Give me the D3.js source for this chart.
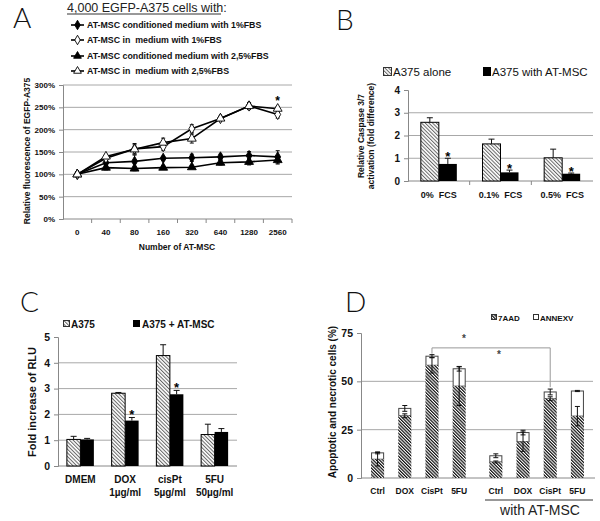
<!DOCTYPE html>
<html><head><meta charset="utf-8">
<script src="https://cdn.jsdelivr.net/npm/d3@7"></script>
<style>
html,body{margin:0;padding:0;background:#fff;}
svg{display:block;font-family:"Liberation Sans",Arial,sans-serif;}
.big{font-family:"Lato","DejaVu Sans",sans-serif;font-weight:300;fill:#111;}
</style></head>
<body>
<script>
// ---------------- DATA ----------------
// Panel A
const aCategories = ["0","40","80","160","320","640","1280","2560"];
const aSeriesNames = ["AT-MSC conditioned medium with 1%FBS","AT-MSC in  medium with 1%FBS","AT-MSC conditioned medium with 2,5%FBS","AT-MSC in  medium with 2,5%FBS"];
const aCond1 = [100,126,129,136,137,139,142,139];
const aCond1Err = [2,5,14,4,8,6,9,14];
const aMed1 = [100,136,157,162,202,225,253,234];
const aMed1Err = [2,5,12,8,9,4,8,8];
const aCond25 = [100,115,113,115,116,126,128,132];
const aCond25Err = [2,5,5,4,3,5,7,9];
const aMed25 = [100,140,156,171,180,225,253,247];
const aMed25Err = [2,4,10,10,10,4,5,5];
const aYTicks = [0,50,100,150,200,250,300];
const aStarAt = ["2560"];
// Panel B
const bCategories = ["0%  FCS","0.1%  FCS","0.5%  FCS"];
const bSeries = ["A375 alone","A375 with AT-MSC"];
const bAlone = [2.58,1.63,1.02];
const bAloneErr = [0.2,0.21,0.38];
const bWith = [0.75,0.38,0.32];
const bWithErr = [0.25,0.1,0.03];
const bYTicks = [0,1,2,3,4];
// Panel C
const cCategories = ["DMEM","DOX","cisPt","5FU"];
const cSubLabels = ["","1µg/ml","5µg/ml","50µg/ml"];
const cSeries = ["A375","A375 + AT-MSC"];
const cA375 = [1.03,2.82,4.28,1.22];
const cA375Err = [0.12,0.03,0.42,0.4];
const cWith = [1.03,1.76,2.78,1.32];
const cWithErr = [0.04,0.12,0.15,0.13];
const cStars = [false,true,true,false];
const cYTicks = [0,1,2,3,4,5];
// Panel D
const dGroups = ["alone","with AT-MSC"];
const dDrugs = ["Ctrl","DOX","CisPt","5FU"];
const dSeries = ["7AAD","ANNEXV"];
const d7AAD = [[9.7,32.2,58.3,47.5],[8.3,18.8,41,32]];
const d7AADErr = [[3.5,1,4,10],[0.5,5,1,5]];
const dTotal = [[13,36,63,56.5],[11.5,23.5,44.5,45]];
const dTotalErr = [[0.5,1.5,0.8,1.2],[1,1.2,1.5,0.3]];
const dYTicks = [0,25,50,75];

// ---------------- SETUP ----------------
const svg = d3.select("body").append("svg").attr("width",600).attr("height",521);
svg.append("rect").attr("width",600).attr("height",521).attr("fill","#fff");
const defs = svg.append("defs");
function hatch(id, size, color, sw){
  const p = defs.append("pattern").attr("id",id).attr("patternUnits","userSpaceOnUse")
    .attr("width",size).attr("height",size).attr("patternTransform","rotate(-45)");
  p.append("rect").attr("width",size).attr("height",size).attr("fill","#fff");
  p.append("line").attr("x1",0.5).attr("y1",0).attr("x2",0.5).attr("y2",size).attr("stroke",color).attr("stroke-width",sw);
}
hatch("hl",2.6,"#666",1);
hatch("hd",2.3,"#111",1.45);
const gridC = "#a8a8a8", axC = "#888";

function yAxis(g, y, x, x2, ticks, fmt, grid, fs){
  grid.forEach(t=>g.append("line").attr("x1",x).attr("x2",x2).attr("y1",y(t)).attr("y2",y(t)).attr("stroke",gridC).attr("stroke-width",1));
  const ax = g.append("g").attr("transform",`translate(${x},0)`).call(d3.axisLeft(y).tickValues(ticks).tickSize(4).tickFormat(fmt));
  ax.select(".domain").attr("stroke",axC);
  ax.selectAll(".tick line").attr("stroke",axC);
  ax.selectAll("text").attr("font-size",fs).attr("font-weight","bold").attr("font-family","Liberation Sans, Arial").attr("fill","#111").attr("dx",-1);
  return ax;
}
function vTitle(lines, x, y, fs, lh){
  const t = svg.append("text").attr("transform",`translate(${x},${y}) rotate(-90)`).attr("text-anchor","middle")
    .attr("font-size",fs).attr("font-weight","bold").attr("fill","#111");
  lines.forEach((l,i)=>t.append("tspan").attr("x",0).attr("dy",i===0?0:lh).text(l));
}
function errBar(g, x, y1, y2, cap, cw){
  g.append("line").attr("x1",x).attr("x2",x).attr("y1",y1).attr("y2",y2).attr("stroke","#111").attr("stroke-width",1);
  if(cap.includes("t")) g.append("line").attr("x1",x-cw).attr("x2",x+cw).attr("y1",y1).attr("y2",y1).attr("stroke","#111");
  if(cap.includes("b")) g.append("line").attr("x1",x-cw).attr("x2",x+cw).attr("y1",y2).attr("y2",y2).attr("stroke","#111");
}

// ---------------- PANEL LETTERS ----------------
[["A",13,28],["B",336,30],["C",20,312],["D",345,312]].forEach(([l,x,y])=>
  svg.append("text").attr("class","big").attr("x",x).attr("y",y).attr("font-size",28).text(l));

// ---------------- PANEL A ----------------
{
  const g = svg.append("g");
  const x = d3.scaleBand().domain(aCategories).range([63,292]);
  const y = d3.scaleLinear().domain([0,300]).range([219,85]);
  svg.append("text").attr("x",67).attr("y",12).attr("font-size",12.5).attr("fill","#222").text("4,000 EGFP-A375 cells with:");
  svg.append("line").attr("x1",67).attr("x2",221).attr("y1",14).attr("y2",14).attr("stroke","#333").attr("stroke-width",1);
  yAxis(g, y, 63, 292, aYTicks, d=>d+"%", aYTicks.filter(t=>t>0), 8);
  g.append("line").attr("x1",63).attr("x2",292).attr("y1",219).attr("y2",219).attr("stroke",axC);
  aCategories.forEach((c,i)=>{
    const xx = x(c)+x.bandwidth();
    g.append("line").attr("x1",xx).attr("x2",xx).attr("y1",219).attr("y2",223).attr("stroke",axC);
    g.append("text").attr("x",x(c)+x.bandwidth()/2).attr("y",235).attr("text-anchor","middle").attr("font-size",8).attr("font-weight","bold").attr("fill","#111").text(c);
  });
  g.append("text").attr("x",177).attr("y",250).attr("text-anchor","middle").attr("font-size",8.5).attr("font-weight","bold").attr("fill","#111").text("Number of AT-MSC");
  vTitle(["Relative fluorescence of EGFP-A375"], 30, 151, 8.5, 0);
  const series = [
    {v:aCond1,e:aCond1Err,sym:d3.symbolDiamond,fill:"#000"},
    {v:aMed1,e:aMed1Err,sym:d3.symbolDiamond,fill:"#fff"},
    {v:aCond25,e:aCond25Err,sym:d3.symbolTriangle,fill:"#000"},
    {v:aMed25,e:aMed25Err,sym:d3.symbolTriangle,fill:"#fff"}];
  const cx = c=>x(c)+x.bandwidth()/2;
  const line = d3.line().x((d,i)=>cx(aCategories[i])).y(d=>y(d));
  series.forEach(s=>g.append("path").attr("d",line(s.v)).attr("fill","none").attr("stroke","#000").attr("stroke-width",1.6));
  series.forEach(s=>s.v.forEach((v,i)=>errBar(g,cx(aCategories[i]),y(v+s.e[i]),y(v-s.e[i]),"tb",2)));
  series.forEach(s=>s.v.forEach((v,i)=>g.append("path").attr("d",d3.symbol(s.sym, s.sym===d3.symbolDiamond?30:34)())
    .attr("transform",`translate(${cx(aCategories[i])},${y(v)})`).attr("fill",s.fill).attr("stroke","#000").attr("stroke-width",0.9)));
  aStarAt.forEach(c=>{
    const i = aCategories.indexOf(c);
    const top = d3.max(series,s=>s.v[i]+s.e[i]);
    g.append("text").attr("x",cx(c)).attr("y",y(top)-1).attr("text-anchor","middle").attr("font-size",12).attr("font-weight","bold").text("*");
  });
  // legend
  const ly = [25,40,56,71];
  series.forEach((s,i)=>{
    g.append("line").attr("x1",71).attr("x2",84).attr("y1",ly[i]).attr("y2",ly[i]).attr("stroke","#000").attr("stroke-width",1.6);
    g.append("path").attr("d",d3.symbol(s.sym,26)()).attr("transform",`translate(77.5,${ly[i]})`).attr("fill",s.fill).attr("stroke","#000").attr("stroke-width",0.9);
    g.append("text").attr("x",87).attr("y",ly[i]+3.2).attr("font-size",8.8).attr("font-weight","bold").attr("fill","#111").attr("xml:space","preserve").text(aSeriesNames[i]);
  });
}

// ---------------- PANEL B ----------------
{
  const g = svg.append("g");
  const x = d3.scaleBand().domain(bCategories).range([408,593]);
  const st = x.bandwidth();
  const xi = d3.scaleBand().domain(bSeries).range([st/2-18, st/2+18]);
  const y = d3.scaleLinear().domain([0,4]).range([181,90]);
  yAxis(g, y, 408, 593, bYTicks, d3.format("d"), [1,2,3], 10);
  g.append("line").attr("x1",408).attr("x2",593).attr("y1",181).attr("y2",181).attr("stroke",axC);
  [1,2].forEach(i=>g.append("line").attr("x1",408+i*st).attr("x2",408+i*st).attr("y1",181).attr("y2",185).attr("stroke",axC));
  bCategories.forEach((c,i)=>{
    const x0 = x(c)+xi(bSeries[0]), x1 = x(c)+xi(bSeries[1]), w = xi.bandwidth();
    g.append("rect").attr("x",x0).attr("y",y(bAlone[i])).attr("width",w).attr("height",y(0)-y(bAlone[i])).attr("fill","url(#hl)").attr("stroke","#000").attr("stroke-width",1);
    errBar(g,x0+w/2,y(bAlone[i]+bAloneErr[i]),y(bAlone[i]),"t",3);
    g.append("rect").attr("x",x1).attr("y",y(bWith[i])).attr("width",w).attr("height",y(0)-y(bWith[i])).attr("fill","#000");
    errBar(g,x1+w/2,y(bWith[i]+bWithErr[i]),y(bWith[i]),"t",3);
    g.append("text").attr("x",x1+w/2).attr("y",y(bWith[i]+bWithErr[i])+3).attr("text-anchor","middle").attr("font-size",13).attr("font-weight","bold").text("*");
    g.append("text").attr("x",x(c)+st/2).attr("y",198).attr("text-anchor","middle").attr("font-size",9).attr("font-weight","bold").attr("fill","#111").attr("xml:space","preserve").text(c);
  });
  vTitle(["Relative Caspase 3/7","activation (fold difference)"], 364, 136, 8.5, 10);
  // legend
  g.append("rect").attr("x",383.5).attr("y",67.5).attr("width",8).attr("height",8).attr("fill","url(#hl)").attr("stroke","#333");
  g.append("text").attr("x",393).attr("y",75.5).attr("font-size",11.5).attr("fill","#111").text(bSeries[0]);
  g.append("rect").attr("x",483).attr("y",67).attr("width",8).attr("height",9).attr("fill","#000");
  g.append("text").attr("x",492).attr("y",75.5).attr("font-size",11.5).attr("fill","#111").text(bSeries[1]);
}

// ---------------- PANEL C ----------------
{
  const g = svg.append("g");
  const x = d3.scaleBand().domain(cCategories).range([58,237]);
  const st = x.bandwidth();
  const xi = d3.scaleBand().domain(cSeries).range([st/2-13.5, st/2+13.5]);
  const y = d3.scaleLinear().domain([0,5]).range([466,337]);
  yAxis(g, y, 58, 237, cYTicks, d3.format("d"), [1,2,3,4], 10.5);
  g.append("line").attr("x1",58).attr("x2",237).attr("y1",466).attr("y2",466).attr("stroke",axC);
  cCategories.forEach((c,i)=>{
    const x0 = x(c)+xi(cSeries[0]), x1 = x(c)+xi(cSeries[1]), w = xi.bandwidth();
    g.append("rect").attr("x",x0).attr("y",y(cA375[i])).attr("width",w).attr("height",y(0)-y(cA375[i])).attr("fill","url(#hl)").attr("stroke","#000").attr("stroke-width",1);
    errBar(g,x0+w/2,y(cA375[i]+cA375Err[i]),y(cA375[i]),"t",3);
    g.append("rect").attr("x",x1).attr("y",y(cWith[i])).attr("width",w).attr("height",y(0)-y(cWith[i])).attr("fill","#000");
    errBar(g,x1+w/2,y(cWith[i]+cWithErr[i]),y(cWith[i]),"t",3);
    if(cStars[i]) g.append("text").attr("x",x1+w/2).attr("y",y(cWith[i]+cWithErr[i])+2).attr("text-anchor","middle").attr("font-size",13).attr("font-weight","bold").text("*");
    g.append("text").attr("x",x(c)+st/2).attr("y",483).attr("text-anchor","middle").attr("font-size",10).attr("font-weight","bold").attr("fill","#111").text(c);
    if(cSubLabels[i]) g.append("text").attr("x",x(c)+st/2).attr("y",496).attr("text-anchor","middle").attr("font-size",10).attr("font-weight","bold").attr("fill","#111").text(cSubLabels[i]);
  });
  vTitle(["Fold increase of RLU"], 36, 402, 11, 0);
  g.append("rect").attr("x",63.5).attr("y",320.5).attr("width",6).attr("height",6).attr("fill","url(#hl)").attr("stroke","#333");
  g.append("text").attr("x",71).attr("y",328).attr("font-size",10).attr("font-weight","bold").attr("fill","#111").text(cSeries[0]);
  g.append("rect").attr("x",133).attr("y",320).attr("width",7).attr("height",7).attr("fill","#000");
  g.append("text").attr("x",142).attr("y",328).attr("font-size",10).attr("font-weight","bold").attr("fill","#111").text(cSeries[1]);
}

// ---------------- PANEL D ----------------
{
  const g = svg.append("g");
  const xo = d3.scaleBand().domain(dGroups).range([364,591]).paddingInner(0.08);
  const xi = d3.scaleBand().domain(dDrugs).range([0,xo.bandwidth()]).paddingInner(0.52).paddingOuter(0.26);
  const y = d3.scaleLinear().domain([0,75]).range([478,333]);
  yAxis(g, y, 361, 593, dYTicks, d3.format("d"), [25,50], 10.5);
  g.append("line").attr("x1",361).attr("x2",595).attr("y1",478).attr("y2",478).attr("stroke",axC);
  const w = xi.bandwidth();
  const bx = (gi,di)=>xo(dGroups[gi])+xi(dDrugs[di]);
  dGroups.forEach((gr,gi)=>dDrugs.forEach((dr,di)=>{
    const x0 = bx(gi,di);
    const a = d7AAD[gi][di], t = dTotal[gi][di];
    g.append("rect").attr("x",x0+0.5).attr("y",y(t)).attr("width",w-1).attr("height",y(a)-y(t)).attr("fill","#fff").attr("stroke","#444").attr("stroke-width",1);
    g.append("rect").attr("x",x0).attr("y",y(a)).attr("width",w).attr("height",y(0)-y(a)).attr("fill","url(#hd)");
    errBar(g,x0+w/2,y(t+dTotalErr[gi][di]),y(t-dTotalErr[gi][di]),"tb",2.5);
    errBar(g,x0+w/2,y(a+d7AADErr[gi][di]),y(a-d7AADErr[gi][di]),"tb",2.5);
    g.append("text").attr("x",x0+w/2).attr("y",494).attr("text-anchor","middle").attr("font-size",8.5).attr("font-weight","bold").attr("fill","#111").text(dr);
  }));
  // bracket
  const xa = bx(0,2)+w/2, xb = bx(1,2)+w/2;
  const yTop = y(dTotal[0][2]+dTotalErr[0][2]+3.5);
  g.append("path").attr("d",`M${xa},${y(dTotal[0][2]+dTotalErr[0][2]+0.5)}V${yTop}H${xb}V${y(dTotal[1][2]+dTotalErr[1][2]+1)}`).attr("fill","none").attr("stroke","#999").attr("stroke-width",1);
  g.append("text").attr("x",464).attr("y",342).attr("text-anchor","middle").attr("font-size",10).attr("font-weight","bold").attr("fill","#444").text("*");
  g.append("text").attr("x",499).attr("y",358).attr("text-anchor","middle").attr("font-size",10).attr("font-weight","bold").attr("fill","#444").text("*");
  vTitle(["Apoptotic and necrotic cells (%)"], 336, 402, 10, 0);
  // with AT-MSC
  g.append("line").attr("x1",485).attr("x2",593).attr("y1",500).attr("y2",500).attr("stroke","#333");
  g.append("text").attr("x",540).attr("y",515).attr("text-anchor","middle").attr("font-size",14).attr("font-family","Liberation Sans Narrow, Liberation Sans").attr("fill","#222").text("with AT-MSC");
  // legend
  g.append("rect").attr("x",491.5).attr("y",314.5).attr("width",5).attr("height",5).attr("fill","url(#hd)").attr("stroke","#333");
  g.append("text").attr("x",498).attr("y",320.5).attr("font-size",8).attr("font-weight","bold").attr("fill","#111").text(dSeries[0]);
  g.append("rect").attr("x",533.5).attr("y",314.5).attr("width",5).attr("height",5).attr("fill","#fff").attr("stroke","#333");
  g.append("text").attr("x",540).attr("y",320.5).attr("font-size",8).attr("font-weight","bold").attr("fill","#111").text(dSeries[1]);
}
</script>
</body></html>
